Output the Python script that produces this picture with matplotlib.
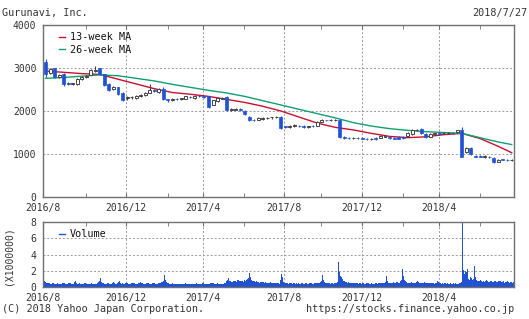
import numpy as np
import matplotlib.pyplot as plt
from matplotlib.lines import Line2D

plt.rcParams['font.family'] = 'DejaVu Sans Mono'

title = "Gurunavi, Inc."
as_of = "2018/7/27"

# weekly candles (yen), Aug 2016 - Jul 2018
opens = [3150, 2880, 3000, 2790, 2860, 2650, 2620, 2630, 2740, 2790,
         2840, 2930, 3000, 2850, 2620, 2520, 2550, 2430, 2300, 2320,
         2310, 2350, 2380, 2430, 2480, 2450, 2520, 2270, 2260, 2280,
         2270, 2290, 2330, 2300, 2350, 2340, 2340, 2150, 2230, 2290,
         2320, 2030, 2030, 2050, 2010, 1870, 1800, 1800, 1820, 1830,
         1850, 1850, 1870, 1640, 1620, 1650, 1660, 1660, 1630, 1650,
         1660, 1750, 1790, 1780, 1780, 1800, 1390, 1380, 1370, 1380,
         1370, 1360, 1350, 1380, 1380, 1400, 1390, 1380, 1390, 1400,
         1430, 1460, 1550, 1590, 1470, 1400, 1460, 1500, 1480, 1490,
         1500, 1510, 1570, 1040, 1150, 960, 950, 930, 930, 910,
         820, 880, 870, 850]
closes = [2850, 2970, 2780, 2830, 2620, 2620, 2640, 2740, 2790, 2810,
          2950, 2960, 2850, 2600, 2480, 2550, 2400, 2260, 2320, 2330,
          2350, 2380, 2430, 2480, 2460, 2520, 2270, 2260, 2280, 2270,
          2300, 2340, 2320, 2360, 2340, 2330, 2100, 2250, 2300, 2310,
          2030, 2040, 2050, 2020, 1920, 1780, 1790, 1830, 1830, 1840,
          1850, 1860, 1610, 1620, 1660, 1670, 1650, 1620, 1640, 1640,
          1750, 1790, 1780, 1790, 1800, 1400, 1380, 1370, 1380, 1370,
          1360, 1350, 1360, 1340, 1430, 1420, 1380, 1360, 1360, 1370,
          1490, 1560, 1560, 1480, 1400, 1470, 1480, 1470, 1490, 1500,
          1490, 1550, 940, 1150, 1000, 940, 940, 950, 920, 820,
          870, 860, 860, 870]
highs = [3200, 3000, 3010, 2850, 2880, 2670, 2660, 2760, 2810, 2830,
         2980, 3040, 3010, 2860, 2640, 2580, 2570, 2440, 2340, 2350,
         2370, 2400, 2450, 2620, 2520, 2540, 2560, 2290, 2300, 2300,
         2310, 2360, 2350, 2380, 2370, 2350, 2360, 2260, 2320, 2330,
         2340, 2060, 2070, 2070, 2030, 1880, 1820, 1850, 1850, 1860,
         1870, 1880, 1880, 1660, 1680, 1690, 1680, 1680, 1660, 1670,
         1770, 1810, 1800, 1810, 1820, 1810, 1410, 1400, 1400, 1390,
         1390, 1380, 1380, 1400, 1450, 1440, 1410, 1400, 1410, 1420,
         1510, 1580, 1590, 1600, 1490, 1490, 1500, 1510, 1510, 1520,
         1520, 1570, 1620, 1170, 1170, 980, 970, 970, 950, 920,
         890, 890, 880, 880]
lows = [2800, 2860, 2760, 2770, 2580, 2600, 2600, 2610, 2720, 2770,
        2830, 2910, 2840, 2580, 2460, 2500, 2380, 2230, 2260, 2290,
        2290, 2330, 2360, 2410, 2440, 2430, 2250, 2220, 2240, 2250,
        2250, 2280, 2300, 2290, 2320, 2310, 2080, 2130, 2210, 2270,
        2010, 2010, 2020, 1990, 1900, 1760, 1770, 1780, 1800, 1810,
        1820, 1830, 1590, 1600, 1600, 1630, 1630, 1600, 1610, 1620,
        1640, 1740, 1760, 1760, 1760, 1370, 1360, 1350, 1350, 1350,
        1340, 1330, 1330, 1320, 1370, 1390, 1360, 1340, 1340, 1350,
        1420, 1450, 1530, 1460, 1380, 1390, 1450, 1450, 1460, 1470,
        1470, 1490, 920, 1020, 980, 920, 920, 910, 900, 800,
        810, 850, 840, 840]

# moving averages at these weeks
ma_weeks = [0, 4, 8, 12, 16, 20, 24, 28, 32, 36, 40, 44, 48, 52,
            56, 60, 64, 68, 72, 76, 80, 84, 88, 92, 96, 100, 103]
ma13 = [2930, 2900, 2870, 2850, 2740, 2630, 2520, 2430, 2390, 2340, 2270, 2200, 2110, 2000,
        1860, 1720, 1620, 1560, 1480, 1410, 1380, 1400, 1450, 1480, 1360, 1180, 1030]
ma26 = [2760, 2780, 2810, 2840, 2820, 2760, 2700, 2620, 2550, 2480, 2420, 2340, 2240, 2140,
        2040, 1940, 1840, 1730, 1650, 1590, 1550, 1520, 1500, 1480, 1380, 1280, 1220]

# daily volume (x10,000 shares)
volume = [
    80, 72, 60, 55, 48, 52, 45, 40, 38, 44, 50, 42, 36, 40, 45, 38, 42, 35, 40, 48,
    55, 45, 38, 42, 36, 40, 48, 52, 44, 38, 35, 42, 60, 70, 55, 40, 38, 45, 42, 36,
    40, 38, 45, 50, 42, 36, 40, 35, 38, 44, 40, 36, 42, 38, 35, 40, 45, 60, 70, 110,
    65, 52, 45, 40, 42, 38, 45, 50, 42, 38, 40, 44, 58, 48, 42, 40, 50, 62, 70, 58,
    48, 42, 45, 40, 38, 44, 50, 46, 42, 38, 40, 45, 52, 48, 44, 40, 38, 42, 46, 55,
    60, 48, 44, 40, 38, 42, 46, 52, 48, 44, 40, 38, 42, 45, 50, 46, 42, 38, 40, 45,
    48, 52, 58, 65, 80, 150, 85, 60, 50, 45, 42, 40, 38, 44, 40, 36, 38, 42, 35, 40,
    38, 36, 42, 40, 38, 35, 40, 44, 38, 36, 40, 42, 38, 36, 40, 38, 35, 42, 45, 40,
    38, 36, 40, 38, 42, 50, 45, 40, 38, 36, 40, 42, 38, 45, 50, 48, 44, 40, 38, 42,
    46, 40, 38, 35, 40, 38, 42, 48, 52, 70, 90, 195, 110, 80, 70, 65, 60, 75, 80, 70,
    65, 85, 90, 70, 75, 80, 70, 65, 90, 75, 85, 95, 110, 170, 120, 90, 80, 75, 70, 65,
    60, 70, 65, 60, 55, 60, 65, 58, 60, 55, 58, 52, 50, 48, 55, 60, 52, 48, 50, 46,
    44, 50, 48, 45, 42, 90, 160, 120, 85, 60, 50, 55, 48, 45, 42, 50, 46, 44, 40, 48,
    45, 42, 46, 40, 44, 42, 40, 45, 48, 42, 38, 44, 46, 40, 42, 50, 55, 48, 44, 40,
    42, 46, 50, 45, 48, 52, 55, 60, 70, 150, 85, 60, 52, 48, 45, 50, 46, 42, 48, 45,
    40, 44, 50, 55, 60, 65, 310, 180, 140, 120, 100, 80, 70, 65, 60, 55, 58, 50, 48, 52,
    46, 50, 48, 45, 50, 46, 42, 48, 45, 40, 44, 50, 46, 42, 40, 45, 48, 44, 40, 42,
    46, 40, 42, 38, 44, 48, 40, 45, 55, 50, 46, 44, 48, 50, 60, 130, 75, 55, 48, 45,
    50, 48, 52, 60, 55, 50, 58, 65, 48, 52, 70, 90, 220, 130, 90, 70, 60, 55, 50, 52,
    55, 60, 52, 48, 50, 55, 65, 70, 90, 60, 52, 48, 50, 46, 55, 60, 52, 48, 45, 50,
    48, 45, 50, 55, 46, 42, 48, 45, 80, 60, 48, 44, 42, 46, 40, 44, 48, 42, 40, 45,
    42, 40, 45, 38, 42, 46, 40, 44, 38, 42, 40, 45, 50, 60, 800, 210, 160, 200, 190, 220,
    100, 90, 120, 110, 90, 80, 100, 260, 120, 90, 80, 75, 70, 85, 70, 65, 80, 60, 75, 90,
    70, 65, 60, 80, 70, 65, 60, 75, 70, 60, 65, 80, 70, 150, 80, 65, 60, 70, 55, 65,
    60, 70, 58, 55, 60, 65, 55, 60,
]

# x axis is trading-day index
month_labels = ["2016/8", "2016/12", "2017/4", "2017/8", "2017/12", "2018/4"]
month_days = [0, 86, 166, 250, 330, 410]
minor_days = [44, 129, 208, 288, 373, 453]

blue = "#2152d4"
red = "#c8102e"
green = "#0fa06e"
edge = "#444444"
spine = "#707070"
txt = "#333333"

n_days = len(volume)
n_weeks = len(opens)
o = np.array(opens); c = np.array(closes)
hi = np.array(highs); lo = np.array(lows)
wx = (np.arange(n_weeks) + 0.5) * n_days / n_weeks
down = c < o

fig = plt.figure(figsize=(5.29, 3.19), dpi=100)
ax1 = fig.add_axes([0.0819, 0.3824, 0.8897, 0.5392])
ax2 = fig.add_axes([0.0819, 0.1003, 0.8897, 0.2037])

ma_x = (np.array(ma_weeks) + 0.5) * n_days / n_weeks
ax1.plot(ma_x, ma13, color=red, lw=1.0, label="13-week MA", zorder=3)
ax1.plot(ma_x, ma26, color=green, lw=1.0, label="26-week MA", zorder=3)

ax1.vlines(wx[down], lo[down], hi[down], color=blue, lw=0.8, zorder=4)
ax1.vlines(wx[~down], lo[~down], hi[~down], color=edge, lw=0.8, zorder=4)
ax1.bar(wx[down], (o - c)[down], bottom=c[down], width=3.1,
        color=blue, edgecolor=blue, lw=0.5, zorder=5)
ax1.bar(wx[~down], (c - o)[~down], bottom=o[~down], width=3.1,
        facecolor="white", edgecolor=edge, lw=0.7, zorder=5)

ax2.bar(np.arange(n_days) + 0.5, np.array(volume) / 100, width=1.0,
        color=blue, lw=0)

ax1.set_ylim(0, 4000)
ax1.set_yticks([0, 1000, 2000, 3000, 4000])
ax2.set_ylim(0, 8)
ax2.set_yticks([0, 2, 4, 6, 8])

for ax in (ax1, ax2):
    ax.set_xlim(0, n_days)
    ax.set_xticks(month_days)
    ax.set_xticklabels(month_labels)
    ax.set_xticks(minor_days, minor=True)
    ax.grid(True, which="major", color="#9a9a9a", linestyle=(0, (2, 2)), lw=0.7)
    ax.set_axisbelow(True)
    ax.tick_params(axis="x", which="both", direction="in", top=True, length=3,
                   color=spine, labelsize=7, labelcolor=txt, pad=4)
    ax.tick_params(axis="y", length=0, labelsize=7, labelcolor=txt, pad=5)
    for s in ax.spines.values():
        s.set_color(spine)
        s.set_linewidth(1.0)

leg_kw = dict(loc="upper left", bbox_to_anchor=(0.018, 1.0), frameon=False,
              handlelength=0.6, handletextpad=0.5, borderpad=0.2,
              labelspacing=0.25, fontsize=7.3)
leg1 = ax1.legend(**leg_kw)
leg2 = ax2.legend([Line2D([], [], color=blue, lw=1.0)], ["Volume"], **leg_kw)
for leg in (leg1, leg2):
    for t in leg.get_texts():
        t.set_color("#111111")

fig.text(0.004, 0.96, title, fontsize=7.3, color=txt, va="center", ha="left")
fig.text(0.996, 0.96, as_of, fontsize=7.3, color=txt, va="center", ha="right")
fig.text(0.017, 0.2, "(X1000000)", fontsize=7, color=txt, rotation=90,
         va="center", ha="center")
fig.text(0.004, 0.03, "(C) 2018 Yahoo Japan Corporation.", fontsize=7.3,
         color=txt, va="center", ha="left")
fig.text(0.972, 0.03, "https://stocks.finance.yahoo.co.jp", fontsize=7.3,
         color=txt, va="center", ha="right")

fig.savefig("out.png", dpi=100)
